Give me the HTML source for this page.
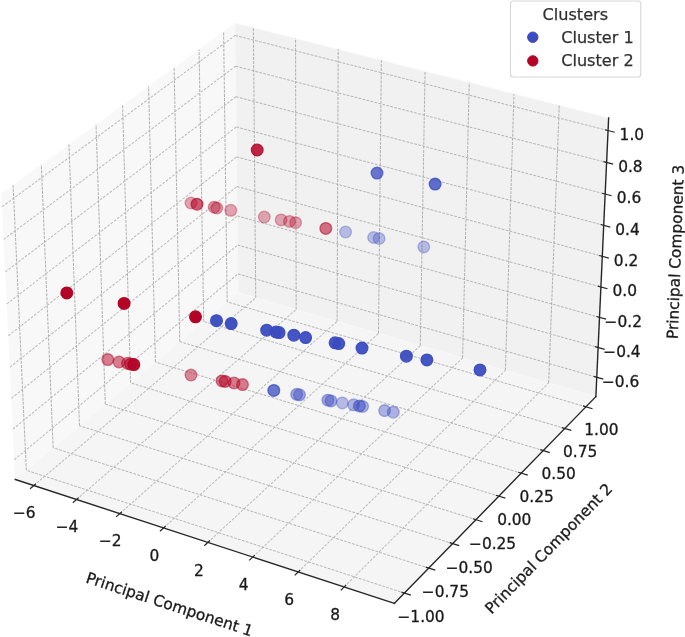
<!DOCTYPE html>
<html lang="en"><head><meta charset="utf-8"><title>PCA Clusters 3D</title>
<style>html,body{margin:0;padding:0;background:#fff}svg{display:block}</style></head>
<body>
<svg width="685" height="637" viewBox="0 0 685 637">
<rect width="685" height="637" fill="#ffffff"/>
<g stroke-linejoin="round">
<polygon points="15.31,479.50 238.21,292.67 235.11,23.21 1.54,193.66" fill="#f8f8f8" stroke="#fafafa" stroke-width="0.6"/>
<polygon points="238.21,292.67 595.88,396.63 608.64,117.89 235.11,23.21" fill="#f1f1f1" stroke="#f6f6f6" stroke-width="0.6"/>
<polygon points="15.31,479.50 394.46,603.34 595.88,396.63 238.21,292.67" fill="#f5f5f5" stroke="#f8f8f8" stroke-width="0.6"/>
</g>
<g fill="none" stroke="#acacac" stroke-width="0.9" stroke-dasharray="2.7 1.4">
<polyline points="33.82,485.55 255.74,297.76" stroke-width="1.02" stroke-dasharray="2.6 1.5" stroke="#bababa"/>
<polyline points="255.74,297.76 253.38,27.85" stroke-width="1.02" stroke="#b0b0b0" stroke-dasharray="2.95 1.15"/>
<polyline points="76.54,499.50 296.19,309.52" stroke-width="1.02" stroke-dasharray="2.6 1.5" stroke="#bababa"/>
<polyline points="296.19,309.52 295.55,38.53" stroke-width="1.02" stroke="#b0b0b0" stroke-dasharray="2.95 1.15"/>
<polyline points="119.79,513.63 337.09,321.41" stroke-width="1.02" stroke-dasharray="2.6 1.5" stroke="#bababa"/>
<polyline points="337.09,321.41 338.21,49.35" stroke-width="1.02" stroke="#b0b0b0" stroke-dasharray="2.95 1.15"/>
<polyline points="163.57,527.93 378.45,333.43" stroke-width="1.02" stroke-dasharray="2.6 1.5" stroke="#bababa"/>
<polyline points="378.45,333.43 381.38,60.29" stroke-width="1.02" stroke="#b0b0b0" stroke-dasharray="2.95 1.15"/>
<polyline points="207.89,542.40 420.28,345.59" stroke-width="1.02" stroke-dasharray="2.6 1.5" stroke="#bababa"/>
<polyline points="420.28,345.59 425.06,71.36" stroke-width="1.02" stroke="#b0b0b0" stroke-dasharray="2.95 1.15"/>
<polyline points="252.77,557.06 462.59,357.89" stroke-width="1.02" stroke-dasharray="2.6 1.5" stroke="#bababa"/>
<polyline points="462.59,357.89 469.25,82.56" stroke-width="1.02" stroke="#b0b0b0" stroke-dasharray="2.95 1.15"/>
<polyline points="298.21,571.90 505.38,370.32" stroke-width="1.02" stroke-dasharray="2.6 1.5" stroke="#bababa"/>
<polyline points="505.38,370.32 513.98,93.90" stroke-width="1.02" stroke="#b0b0b0" stroke-dasharray="2.95 1.15"/>
<polyline points="344.22,586.93 548.67,382.91" stroke-width="1.02" stroke-dasharray="2.6 1.5" stroke="#bababa"/>
<polyline points="548.67,382.91 559.25,105.37" stroke-width="1.02" stroke="#b0b0b0" stroke-dasharray="2.95 1.15"/>
<polyline points="404.44,593.09 26.31,470.29"/>
<polyline points="26.31,470.29 13.11,185.22" stroke-width="1.02" stroke="#b0b0b0" stroke-dasharray="2.95 1.15"/>
<polyline points="428.78,568.11 53.15,447.78"/>
<polyline points="53.15,447.78 41.32,164.63" stroke-width="1.02" stroke="#b0b0b0" stroke-dasharray="2.95 1.15"/>
<polyline points="452.63,543.64 79.48,425.72"/>
<polyline points="79.48,425.72 68.96,144.46" stroke-width="1.02" stroke="#b0b0b0" stroke-dasharray="2.95 1.15"/>
<polyline points="475.98,519.67 105.29,404.08"/>
<polyline points="105.29,404.08 96.04,124.70" stroke-width="1.02" stroke="#b0b0b0" stroke-dasharray="2.95 1.15"/>
<polyline points="498.87,496.19 130.60,382.86"/>
<polyline points="130.60,382.86 122.58,105.33" stroke-width="1.02" stroke="#b0b0b0" stroke-dasharray="2.95 1.15"/>
<polyline points="521.29,473.17 155.44,362.05"/>
<polyline points="155.44,362.05 148.58,86.35" stroke-width="1.02" stroke="#b0b0b0" stroke-dasharray="2.95 1.15"/>
<polyline points="543.28,450.61 179.80,341.62"/>
<polyline points="179.80,341.62 174.08,67.75" stroke-width="1.02" stroke="#b0b0b0" stroke-dasharray="2.95 1.15"/>
<polyline points="564.83,428.49 203.72,321.58"/>
<polyline points="203.72,321.58 199.08,49.50" stroke-width="1.02" stroke="#b0b0b0" stroke-dasharray="2.95 1.15"/>
<polyline points="585.96,406.80 227.19,301.90"/>
<polyline points="227.19,301.90 223.60,31.61" stroke-width="1.02" stroke="#b0b0b0" stroke-dasharray="2.95 1.15"/>
<polyline points="14.35,459.67 237.99,273.91" stroke-width="1.02" stroke-dasharray="2.6 1.5" stroke="#bababa"/>
<polyline points="237.99,273.91 596.77,377.26"/>
<polyline points="12.88,429.15 237.66,245.05" stroke-width="1.02" stroke-dasharray="2.6 1.5" stroke="#bababa"/>
<polyline points="237.66,245.05 598.13,347.46"/>
<polyline points="11.40,398.32 237.32,215.93" stroke-width="1.02" stroke-dasharray="2.6 1.5" stroke="#bababa"/>
<polyline points="237.32,215.93 599.51,317.36"/>
<polyline points="9.90,367.18 236.99,186.54" stroke-width="1.02" stroke-dasharray="2.6 1.5" stroke="#bababa"/>
<polyline points="236.99,186.54 600.90,286.98"/>
<polyline points="8.38,335.73 236.65,156.88" stroke-width="1.02" stroke-dasharray="2.6 1.5" stroke="#bababa"/>
<polyline points="236.65,156.88 602.31,256.31"/>
<polyline points="6.85,303.96 236.30,126.94" stroke-width="1.02" stroke-dasharray="2.6 1.5" stroke="#bababa"/>
<polyline points="236.30,126.94 603.72,225.34"/>
<polyline points="5.31,271.86 235.95,96.73" stroke-width="1.02" stroke-dasharray="2.6 1.5" stroke="#bababa"/>
<polyline points="235.95,96.73 605.16,194.06"/>
<polyline points="3.75,239.44 235.60,66.23" stroke-width="1.02" stroke-dasharray="2.6 1.5" stroke="#bababa"/>
<polyline points="235.60,66.23 606.60,162.48"/>
<polyline points="2.17,206.69 235.25,35.45" stroke-width="1.02" stroke-dasharray="2.6 1.5" stroke="#bababa"/>
<polyline points="235.25,35.45 608.06,130.58"/>
</g>
<g fill="none" stroke="#262626" stroke-width="1.4" stroke-linecap="square">
<line x1="15.31" y1="479.50" x2="394.46" y2="603.34"/>
<line x1="394.46" y1="603.34" x2="595.88" y2="396.63"/>
<line x1="595.88" y1="396.63" x2="608.64" y2="117.89"/>
</g>
<g fill="none" stroke="#262626" stroke-width="1.2">
<line x1="35.95" y1="483.74" x2="30.08" y2="488.71"/>
<line x1="78.66" y1="497.67" x2="72.84" y2="502.71"/>
<line x1="121.89" y1="511.77" x2="116.12" y2="516.87"/>
<line x1="165.65" y1="526.05" x2="159.94" y2="531.22"/>
<line x1="209.95" y1="540.50" x2="204.30" y2="545.73"/>
<line x1="254.80" y1="555.13" x2="249.22" y2="560.43"/>
<line x1="300.22" y1="569.95" x2="294.70" y2="575.32"/>
<line x1="346.21" y1="584.95" x2="340.76" y2="590.39"/>
<line x1="401.40" y1="592.10" x2="410.91" y2="595.19"/>
<line x1="425.74" y1="567.13" x2="435.26" y2="570.18"/>
<line x1="449.57" y1="542.68" x2="459.11" y2="545.69"/>
<line x1="472.93" y1="518.72" x2="482.47" y2="521.70"/>
<line x1="495.81" y1="495.25" x2="505.36" y2="498.19"/>
<line x1="518.23" y1="472.24" x2="527.80" y2="475.15"/>
<line x1="540.21" y1="449.69" x2="549.79" y2="452.57"/>
<line x1="561.76" y1="427.59" x2="571.35" y2="430.42"/>
<line x1="582.89" y1="405.91" x2="592.49" y2="408.71"/>
<line x1="593.69" y1="376.37" x2="603.30" y2="379.14"/>
<line x1="595.05" y1="346.58" x2="604.67" y2="349.31"/>
<line x1="596.43" y1="316.50" x2="606.06" y2="319.20"/>
<line x1="597.82" y1="286.13" x2="607.46" y2="288.79"/>
<line x1="599.22" y1="255.47" x2="608.87" y2="258.09"/>
<line x1="600.63" y1="224.51" x2="610.29" y2="227.10"/>
<line x1="602.06" y1="193.24" x2="611.73" y2="195.79"/>
<line x1="603.50" y1="161.67" x2="613.18" y2="164.18"/>
<line x1="604.96" y1="129.79" x2="614.65" y2="132.26"/>
</g>
<g font-family="'DejaVu Sans', 'Liberation Sans', sans-serif" font-size="15.40" fill="#1a1a1a" stroke="#1a1a1a" stroke-width="0.3" text-anchor="middle">
<text x="24.32" y="518.37">−6</text>
<text x="67.04" y="532.32">−4</text>
<text x="110.29" y="546.45">−2</text>
<text x="154.47" y="561.05">0</text>
<text x="198.79" y="575.52">2</text>
<text x="243.67" y="590.18">4</text>
<text x="289.11" y="605.02">6</text>
<text x="335.12" y="620.05">8</text>
<text x="421.04" y="622.01">−1.00</text>
<text x="445.38" y="597.03">−0.75</text>
<text x="469.23" y="572.56">−0.50</text>
<text x="492.58" y="548.59">−0.25</text>
<text x="514.27" y="524.81">0.00</text>
<text x="536.69" y="501.79">0.25</text>
<text x="558.68" y="479.23">0.50</text>
<text x="580.23" y="457.12">0.75</text>
<text x="601.36" y="435.43">1.00</text>
<text x="620.57" y="386.58">−0.6</text>
<text x="621.93" y="356.78">−0.4</text>
<text x="623.31" y="326.69">−0.2</text>
<text x="624.70" y="296.31">0.0</text>
<text x="626.11" y="265.63">0.2</text>
<text x="627.52" y="234.66">0.4</text>
<text x="628.96" y="203.38">0.6</text>
<text x="630.40" y="171.80">0.8</text>
<text x="631.86" y="139.90">1.0</text>
</g>
<g font-family="'DejaVu Sans', 'Liberation Sans', sans-serif" font-size="15.40" fill="#1a1a1a" stroke="#1a1a1a" stroke-width="0.3" text-anchor="middle">
<text transform="translate(169.40,605.00) rotate(18.10)" x="0" y="4.62">Principal Component 1</text>
<text transform="translate(549.20,549.00) rotate(-45.70)" x="0" y="4.62">Principal Component 2</text>
<text transform="translate(676.20,252.00) rotate(-88.00)" x="0" y="4.62">Principal Component 3</text>
</g>
<g stroke-width="1.3">
<circle cx="257.2" cy="150.0" r="5.85" fill="#b40426" stroke="#b40426" fill-opacity="0.85" stroke-opacity="0.85"/>
<circle cx="191.0" cy="203.0" r="5.85" fill="#b40426" stroke="#b40426" fill-opacity="0.35" stroke-opacity="0.35"/>
<circle cx="197.0" cy="204.2" r="5.85" fill="#b40426" stroke="#b40426" fill-opacity="0.65" stroke-opacity="0.65"/>
<circle cx="214.2" cy="207.2" r="5.85" fill="#b40426" stroke="#b40426" fill-opacity="0.38" stroke-opacity="0.38"/>
<circle cx="216.8" cy="208.0" r="5.85" fill="#b40426" stroke="#b40426" fill-opacity="0.38" stroke-opacity="0.38"/>
<circle cx="230.8" cy="210.3" r="5.85" fill="#b40426" stroke="#b40426" fill-opacity="0.35" stroke-opacity="0.35"/>
<circle cx="264.3" cy="217.0" r="5.85" fill="#b40426" stroke="#b40426" fill-opacity="0.33" stroke-opacity="0.33"/>
<circle cx="281.1" cy="219.9" r="5.85" fill="#b40426" stroke="#b40426" fill-opacity="0.33" stroke-opacity="0.33"/>
<circle cx="289.5" cy="221.4" r="5.85" fill="#b40426" stroke="#b40426" fill-opacity="0.33" stroke-opacity="0.33"/>
<circle cx="295.6" cy="222.7" r="5.85" fill="#b40426" stroke="#b40426" fill-opacity="0.33" stroke-opacity="0.33"/>
<circle cx="325.8" cy="228.4" r="5.85" fill="#b40426" stroke="#b40426" fill-opacity="0.55" stroke-opacity="0.55"/>
<circle cx="345.6" cy="232.0" r="5.85" fill="#3b4cc0" stroke="#3b4cc0" fill-opacity="0.33" stroke-opacity="0.33"/>
<circle cx="373.6" cy="237.5" r="5.85" fill="#3b4cc0" stroke="#3b4cc0" fill-opacity="0.33" stroke-opacity="0.33"/>
<circle cx="379.1" cy="238.5" r="5.85" fill="#3b4cc0" stroke="#3b4cc0" fill-opacity="0.33" stroke-opacity="0.33"/>
<circle cx="423.8" cy="246.9" r="5.85" fill="#3b4cc0" stroke="#3b4cc0" fill-opacity="0.33" stroke-opacity="0.33"/>
<circle cx="377.0" cy="173.1" r="5.85" fill="#3b4cc0" stroke="#3b4cc0" fill-opacity="0.75" stroke-opacity="0.75"/>
<circle cx="435.1" cy="184.1" r="5.85" fill="#3b4cc0" stroke="#3b4cc0" fill-opacity="0.80" stroke-opacity="0.80"/>
<circle cx="66.8" cy="292.9" r="5.85" fill="#b40426" stroke="#b40426" fill-opacity="1.00" stroke-opacity="1.00"/>
<circle cx="124.1" cy="303.4" r="5.85" fill="#b40426" stroke="#b40426" fill-opacity="1.00" stroke-opacity="1.00"/>
<circle cx="195.5" cy="316.8" r="5.85" fill="#b40426" stroke="#b40426" fill-opacity="1.00" stroke-opacity="1.00"/>
<circle cx="107.8" cy="359.6" r="5.85" fill="#b40426" stroke="#b40426" fill-opacity="0.50" stroke-opacity="0.50"/>
<circle cx="119.1" cy="362.0" r="5.85" fill="#b40426" stroke="#b40426" fill-opacity="0.50" stroke-opacity="0.50"/>
<circle cx="127.5" cy="363.3" r="5.85" fill="#b40426" stroke="#b40426" fill-opacity="0.50" stroke-opacity="0.50"/>
<circle cx="130.6" cy="364.1" r="5.85" fill="#b40426" stroke="#b40426" fill-opacity="0.65" stroke-opacity="0.65"/>
<circle cx="133.8" cy="364.6" r="5.85" fill="#b40426" stroke="#b40426" fill-opacity="0.95" stroke-opacity="0.95"/>
<circle cx="216.5" cy="320.7" r="5.85" fill="#3b4cc0" stroke="#3b4cc0" fill-opacity="0.97" stroke-opacity="0.97"/>
<circle cx="231.2" cy="323.6" r="5.85" fill="#3b4cc0" stroke="#3b4cc0" fill-opacity="0.97" stroke-opacity="0.97"/>
<circle cx="266.7" cy="330.2" r="5.85" fill="#3b4cc0" stroke="#3b4cc0" fill-opacity="0.95" stroke-opacity="0.95"/>
<circle cx="275.9" cy="332.0" r="5.85" fill="#3b4cc0" stroke="#3b4cc0" fill-opacity="0.95" stroke-opacity="0.95"/>
<circle cx="279.1" cy="332.6" r="5.85" fill="#3b4cc0" stroke="#3b4cc0" fill-opacity="0.95" stroke-opacity="0.95"/>
<circle cx="293.8" cy="335.2" r="5.85" fill="#3b4cc0" stroke="#3b4cc0" fill-opacity="0.95" stroke-opacity="0.95"/>
<circle cx="305.6" cy="337.6" r="5.85" fill="#3b4cc0" stroke="#3b4cc0" fill-opacity="0.95" stroke-opacity="0.95"/>
<circle cx="335.1" cy="342.8" r="5.85" fill="#3b4cc0" stroke="#3b4cc0" fill-opacity="0.95" stroke-opacity="0.95"/>
<circle cx="338.7" cy="343.6" r="5.85" fill="#3b4cc0" stroke="#3b4cc0" fill-opacity="0.95" stroke-opacity="0.95"/>
<circle cx="362.0" cy="348.1" r="5.85" fill="#3b4cc0" stroke="#3b4cc0" fill-opacity="0.95" stroke-opacity="0.95"/>
<circle cx="406.4" cy="356.2" r="5.85" fill="#3b4cc0" stroke="#3b4cc0" fill-opacity="0.95" stroke-opacity="0.95"/>
<circle cx="426.9" cy="359.9" r="5.85" fill="#3b4cc0" stroke="#3b4cc0" fill-opacity="0.95" stroke-opacity="0.95"/>
<circle cx="480.0" cy="369.9" r="5.85" fill="#3b4cc0" stroke="#3b4cc0" fill-opacity="0.95" stroke-opacity="0.95"/>
<circle cx="191.0" cy="375.0" r="5.85" fill="#b40426" stroke="#b40426" fill-opacity="0.45" stroke-opacity="0.45"/>
<circle cx="222.0" cy="380.9" r="5.85" fill="#b40426" stroke="#b40426" fill-opacity="0.50" stroke-opacity="0.50"/>
<circle cx="225.2" cy="381.4" r="5.85" fill="#b40426" stroke="#b40426" fill-opacity="0.55" stroke-opacity="0.55"/>
<circle cx="234.1" cy="383.0" r="5.85" fill="#b40426" stroke="#b40426" fill-opacity="0.50" stroke-opacity="0.50"/>
<circle cx="242.5" cy="384.6" r="5.85" fill="#b40426" stroke="#b40426" fill-opacity="0.50" stroke-opacity="0.50"/>
<circle cx="273.8" cy="390.4" r="5.85" fill="#3b4cc0" stroke="#3b4cc0" fill-opacity="0.75" stroke-opacity="0.75"/>
<circle cx="296.7" cy="394.3" r="5.85" fill="#3b4cc0" stroke="#3b4cc0" fill-opacity="0.45" stroke-opacity="0.45"/>
<circle cx="299.5" cy="394.8" r="5.85" fill="#3b4cc0" stroke="#3b4cc0" fill-opacity="0.45" stroke-opacity="0.45"/>
<circle cx="327.9" cy="400.2" r="5.85" fill="#3b4cc0" stroke="#3b4cc0" fill-opacity="0.45" stroke-opacity="0.45"/>
<circle cx="331.0" cy="400.9" r="5.85" fill="#3b4cc0" stroke="#3b4cc0" fill-opacity="0.45" stroke-opacity="0.45"/>
<circle cx="342.3" cy="402.9" r="5.85" fill="#3b4cc0" stroke="#3b4cc0" fill-opacity="0.35" stroke-opacity="0.35"/>
<circle cx="353.6" cy="404.8" r="5.85" fill="#3b4cc0" stroke="#3b4cc0" fill-opacity="0.40" stroke-opacity="0.40"/>
<circle cx="359.4" cy="405.9" r="5.85" fill="#3b4cc0" stroke="#3b4cc0" fill-opacity="0.55" stroke-opacity="0.55"/>
<circle cx="362.6" cy="406.4" r="5.85" fill="#3b4cc0" stroke="#3b4cc0" fill-opacity="0.40" stroke-opacity="0.40"/>
<circle cx="384.6" cy="410.6" r="5.85" fill="#3b4cc0" stroke="#3b4cc0" fill-opacity="0.40" stroke-opacity="0.40"/>
<circle cx="393.3" cy="412.2" r="5.85" fill="#3b4cc0" stroke="#3b4cc0" fill-opacity="0.40" stroke-opacity="0.40"/>
</g>
<rect x="510.5" y="1" width="130.3" height="76" rx="3" ry="3" fill="#ffffff" fill-opacity="0.8" stroke="#cccccc" stroke-opacity="0.8" stroke-width="1.1"/>
<circle cx="532.8" cy="37.2" r="5.2" fill="#3b4cc0" stroke="#3b4cc0" stroke-width="1"/>
<circle cx="532.8" cy="60.9" r="5.2" fill="#b40426" stroke="#b40426" stroke-width="1"/>
<g font-family="'DejaVu Sans', 'Liberation Sans', sans-serif" font-size="16.1" fill="#303030" stroke="#303030" stroke-width="0.25">
<text x="575.3" y="19.8" text-anchor="middle">Clusters</text>
<text x="561.2" y="42.7">Cluster 1</text>
<text x="561.2" y="66.1">Cluster 2</text>
</g>
</svg>
</body></html>
